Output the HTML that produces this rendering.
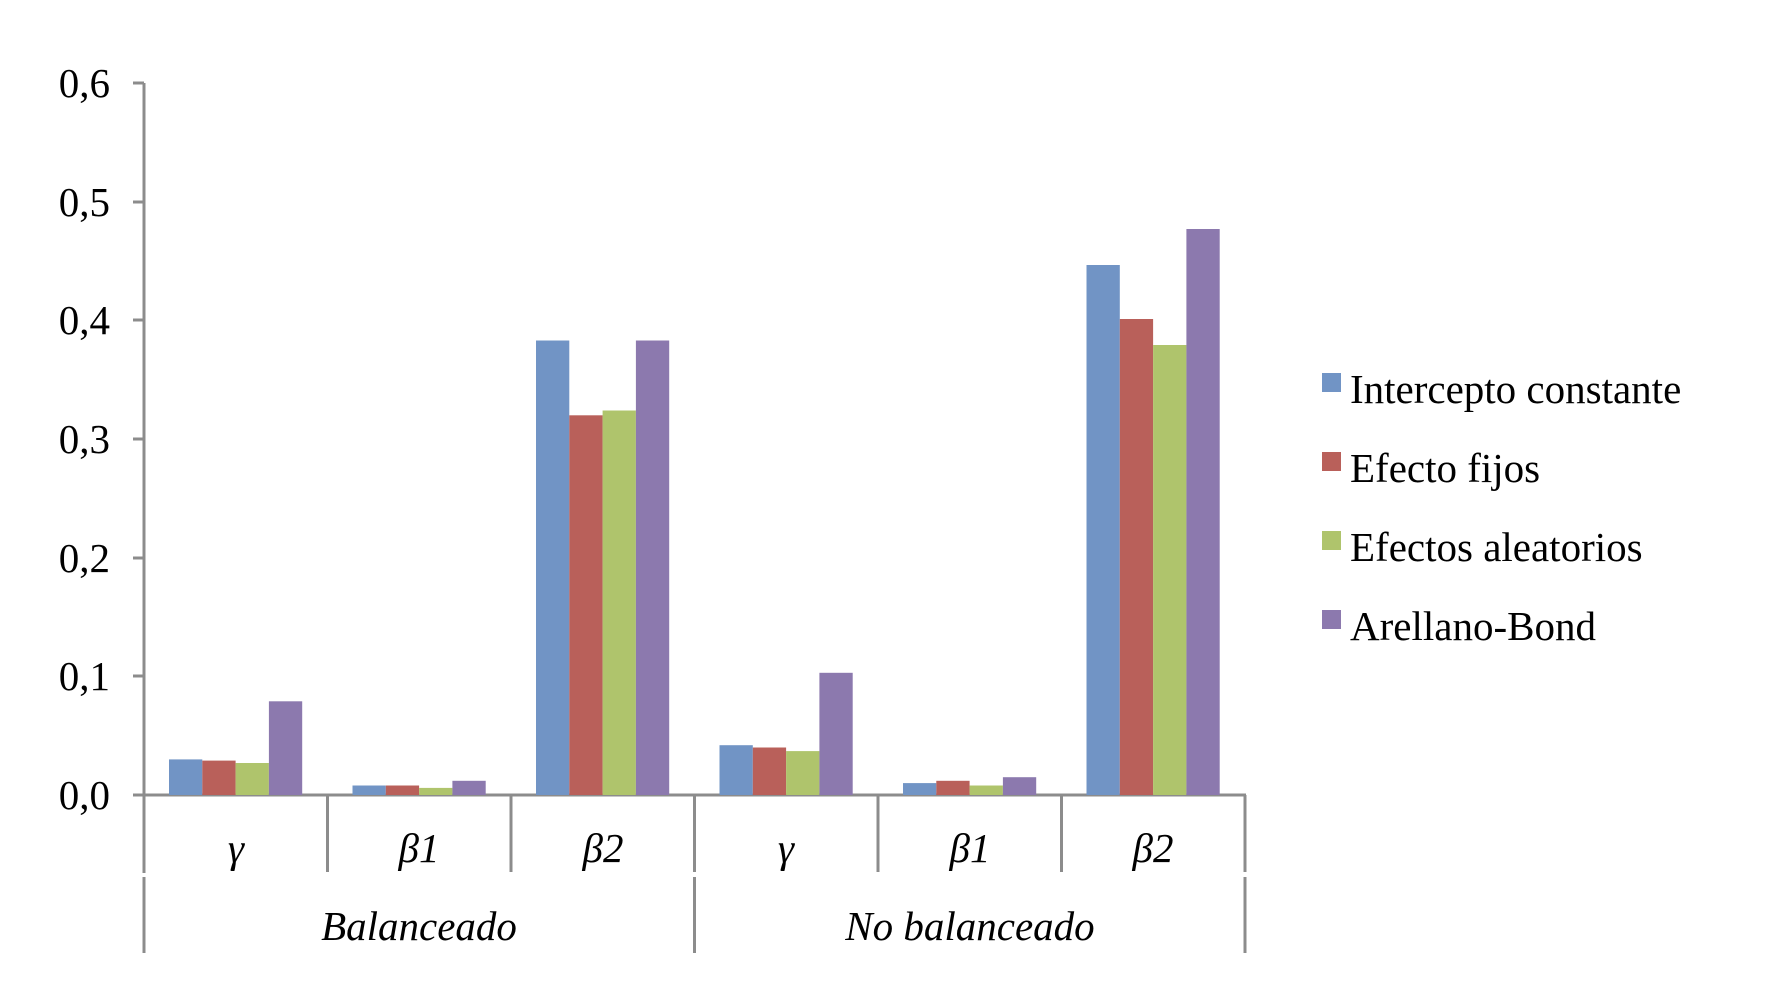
<!DOCTYPE html>
<html><head><meta charset="utf-8"><style>
html,body{margin:0;padding:0;background:#fff;}
svg{display:block;}
text{font-family:"Liberation Serif",serif;fill:#000;}
</style></head><body>
<svg width="1773" height="1003" viewBox="0 0 1773 1003" xmlns="http://www.w3.org/2000/svg">
<g stroke="#8c8c8c" stroke-width="3" fill="none">
<line x1="144" y1="83" x2="144" y2="873"/>
<line x1="144" y1="877" x2="144" y2="953"/>
<line x1="133" y1="83" x2="144" y2="83"/>
<line x1="133" y1="202" x2="144" y2="202"/>
<line x1="133" y1="320" x2="144" y2="320"/>
<line x1="133" y1="439" x2="144" y2="439"/>
<line x1="133" y1="558" x2="144" y2="558"/>
<line x1="133" y1="676" x2="144" y2="676"/>
<line x1="133" y1="795" x2="1246" y2="795"/>
<line x1="327.5" y1="795" x2="327.5" y2="872"/>
<line x1="511" y1="795" x2="511" y2="872"/>
<line x1="694.5" y1="795" x2="694.5" y2="872"/>
<line x1="878" y1="795" x2="878" y2="872"/>
<line x1="1061.5" y1="795" x2="1061.5" y2="872"/>
<line x1="1245" y1="795" x2="1245" y2="872"/>
<line x1="694.5" y1="877" x2="694.5" y2="953"/>
<line x1="1245" y1="877" x2="1245" y2="953"/>
</g>
<g font-size="41" text-anchor="end">
<text x="110" y="97">0,6</text>
<text x="110" y="216">0,5</text>
<text x="110" y="334">0,4</text>
<text x="110" y="453">0,3</text>
<text x="110" y="572">0,2</text>
<text x="110" y="690">0,1</text>
<text x="110" y="809">0,0</text>
</g>
<g>
<rect x="169" y="759.4" width="33.3" height="35.6" fill="#7194C5"/>
<rect x="202.3" y="760.6" width="33.3" height="34.4" fill="#B9605A"/>
<rect x="235.6" y="763" width="33.3" height="32" fill="#AFC46C"/>
<rect x="268.9" y="701.3" width="33.3" height="93.7" fill="#8C79AE"/>
<rect x="352.5" y="785.5" width="33.3" height="9.5" fill="#7194C5"/>
<rect x="385.8" y="785.5" width="33.3" height="9.5" fill="#B9605A"/>
<rect x="419.1" y="787.9" width="33.3" height="7.1" fill="#AFC46C"/>
<rect x="452.4" y="780.8" width="33.3" height="14.2" fill="#8C79AE"/>
<rect x="536" y="340.5" width="33.3" height="454.5" fill="#7194C5"/>
<rect x="569.3" y="415.3" width="33.3" height="379.7" fill="#B9605A"/>
<rect x="602.6" y="410.5" width="33.3" height="384.5" fill="#AFC46C"/>
<rect x="635.9" y="340.5" width="33.3" height="454.5" fill="#8C79AE"/>
<rect x="719.5" y="745.2" width="33.3" height="49.8" fill="#7194C5"/>
<rect x="752.8" y="747.5" width="33.3" height="47.5" fill="#B9605A"/>
<rect x="786.1" y="751.1" width="33.3" height="43.9" fill="#AFC46C"/>
<rect x="819.4" y="672.8" width="33.3" height="122.2" fill="#8C79AE"/>
<rect x="903" y="783.1" width="33.3" height="11.9" fill="#7194C5"/>
<rect x="936.3" y="780.8" width="33.3" height="14.2" fill="#B9605A"/>
<rect x="969.6" y="785.5" width="33.3" height="9.5" fill="#AFC46C"/>
<rect x="1002.9" y="777.2" width="33.3" height="17.8" fill="#8C79AE"/>
<rect x="1086.5" y="265" width="33.3" height="530" fill="#7194C5"/>
<rect x="1119.8" y="319" width="33.3" height="476" fill="#B9605A"/>
<rect x="1153.1" y="345" width="33.3" height="450" fill="#AFC46C"/>
<rect x="1186.4" y="229" width="33.3" height="566" fill="#8C79AE"/>
</g>
<g font-size="41" font-style="italic" text-anchor="middle">
<text x="236" y="862">γ</text>
<text x="419" y="862">β1</text>
<text x="603" y="862">β2</text>
<text x="786" y="862">γ</text>
<text x="970" y="862">β1</text>
<text x="1153" y="862">β2</text>
<text x="419" y="940">Balanceado</text>
<text x="970" y="940">No balanceado</text>
</g>
<rect x="1322" y="373" width="19" height="19" fill="#7194C5"/>
<rect x="1322" y="452" width="19" height="19" fill="#B9605A"/>
<rect x="1322" y="531" width="19" height="19" fill="#AFC46C"/>
<rect x="1322" y="610" width="19" height="19" fill="#8C79AE"/>
<g font-size="41">
<text x="1350" y="403">Intercepto constante</text>
<text x="1350" y="482">Efecto fijos</text>
<text x="1350" y="561">Efectos aleatorios</text>
<text x="1350" y="640">Arellano-Bond</text>
</g>
</svg>
</body></html>
